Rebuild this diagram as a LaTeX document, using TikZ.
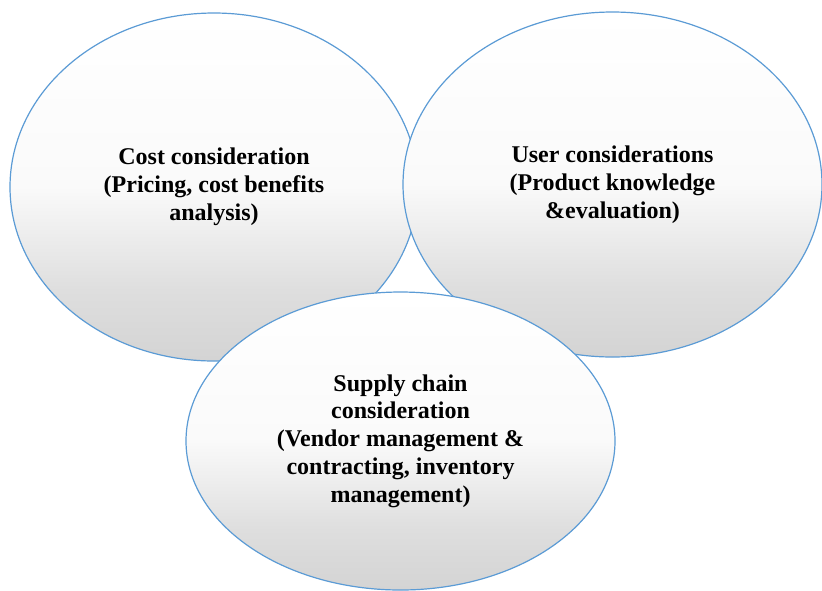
\documentclass[tikz,border=0pt]{standalone}
\usepackage{fontspec}
\setmainfont{Liberation Serif}
\usetikzlibrary{shapes.geometric}
\definecolor{bubbleblue}{RGB}{91,155,213}
\pgfdeclareverticalshading{bubbleshade}{100bp}{color(0bp)=(black!17); color(25bp)=(black!17); color(35bp)=(black!13); color(50bp)=(black!2); color(75bp)=(white); color(100bp)=(white)}

\begin{document}
\begin{tikzpicture}[x=0.5pt,y=-0.5pt]
\tikzset{
    bubble/.style={ellipse,draw=bubbleblue,line width=0.6pt,inner sep=0pt,
        shading=bubbleshade,
        align=center,font=\fontsize{12}{13.9}\selectfont\bfseries}
}
\useasboundingbox (0,0) rectangle (822,590);
% ellipses
\node[bubble,minimum width=204pt,minimum height=174pt] (cost) at (214,187)
    {Cost consideration\\(Pricing, cost benefits\\analysis)};
\node[bubble,minimum width=209.5pt,minimum height=172.5pt] (user) at (612.5,184.5)
    {User considerations\\(Product knowledge\\\&evaluation)};
\node[bubble,minimum width=214.5pt,minimum height=149pt] (supply) at (400.5,441)
    {Supply chain\\consideration\\(Vendor management \&\\contracting, inventory\\management)};
\end{tikzpicture}
\end{document}
